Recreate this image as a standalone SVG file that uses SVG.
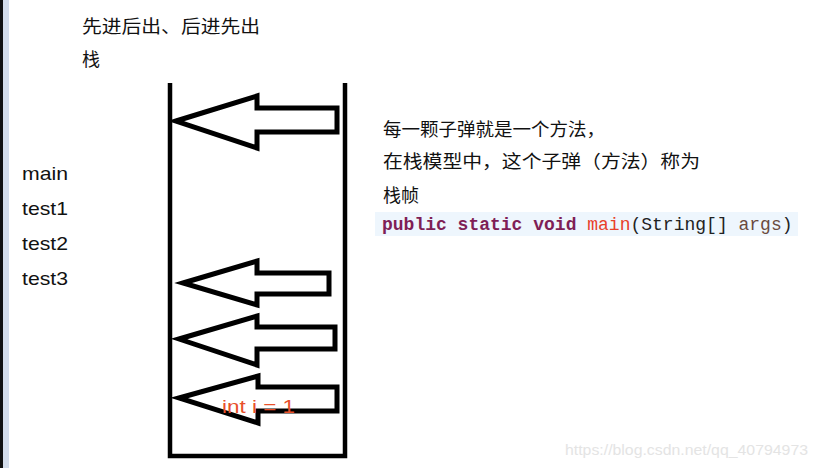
<svg xmlns="http://www.w3.org/2000/svg" width="818" height="468" viewBox="0 0 818 468">
<style>
.cn{font-family:"Liberation Sans","Noto Sans CJK SC",sans-serif;font-size:18px;fill:#111}
.lbl{font-family:"Liberation Sans","Noto Sans CJK SC",sans-serif;font-size:19px;fill:#111}
.frame{fill:#fff;stroke:#000;stroke-width:5;stroke-linejoin:miter}
.code{font-family:"Liberation Mono",monospace;font-size:18px}
.kw{fill:#7f1f56;font-weight:bold}
</style>
<rect x="0" y="0" width="818" height="468" fill="#fff"/>
<rect x="0" y="0" width="3" height="468" fill="#111"/>
<rect x="3" y="0" width="6" height="468" fill="#d3dcea"/>

<g id="title">
<text class="cn" x="82" y="33" textLength="178" lengthAdjust="spacingAndGlyphs">先进后出、后进先出</text>
<text class="cn" x="82" y="66">栈</text>
</g>

<g id="methods">
<text class="lbl" x="22" y="180" textLength="46" lengthAdjust="spacingAndGlyphs">main</text>
<text class="lbl" x="22" y="215" textLength="46" lengthAdjust="spacingAndGlyphs">test1</text>
<text class="lbl" x="22" y="250" textLength="46" lengthAdjust="spacingAndGlyphs">test2</text>
<text class="lbl" x="22" y="285" textLength="46" lengthAdjust="spacingAndGlyphs">test3</text>
</g>

<g id="stack">
<path d="M170,83 V456 H345 V83" fill="none" stroke="#000" stroke-width="4.5"/>
</g>

<g id="frame-top">
<path class="frame" d="M176,121 L257,96 V108 H337 V132 H257 V148 Z"/>
</g>
<g id="frame-2">
<path class="frame" d="M183,283 L257,261 V273 H329 V294 H257 V305 Z"/>
</g>
<g id="frame-3">
<path class="frame" d="M179,339 L257,316 V327 H335 V349 H257 V365 Z"/>
</g>
<g id="frame-4">
<path class="frame" d="M179,398 L258,376 V387 H337 V411 H258 V423 Z"/>
<text x="222" y="413" font-family="Liberation Sans,sans-serif" font-size="18" fill="#e8502a" textLength="73" lengthAdjust="spacingAndGlyphs">int i = 1</text>
</g>

<g id="connectors"></g>

<g id="notes">
<text class="cn" x="383" y="136" textLength="222" lengthAdjust="spacingAndGlyphs">每一颗子弹就是一个方法，</text>
<text class="cn" x="383" y="168" textLength="317" lengthAdjust="spacingAndGlyphs">在栈模型中，这个子弹（方法）称为</text>
<text class="cn" x="383" y="202">栈帧</text>
<rect x="375" y="212" width="423" height="24" fill="#eef6fd"/>
<text class="code" x="382" y="230"><tspan class="kw">public static void</tspan> <tspan fill="#e8402a">main</tspan><tspan fill="#222">(String[]</tspan> <tspan fill="#6b4a3e">args</tspan><tspan fill="#222">)</tspan></text>
</g>

<text x="565" y="455" font-family="Liberation Sans,sans-serif" font-size="14" fill="#e4e4e4" textLength="243" lengthAdjust="spacingAndGlyphs">https://blog.csdn.net/qq_40794973</text>
</svg>
